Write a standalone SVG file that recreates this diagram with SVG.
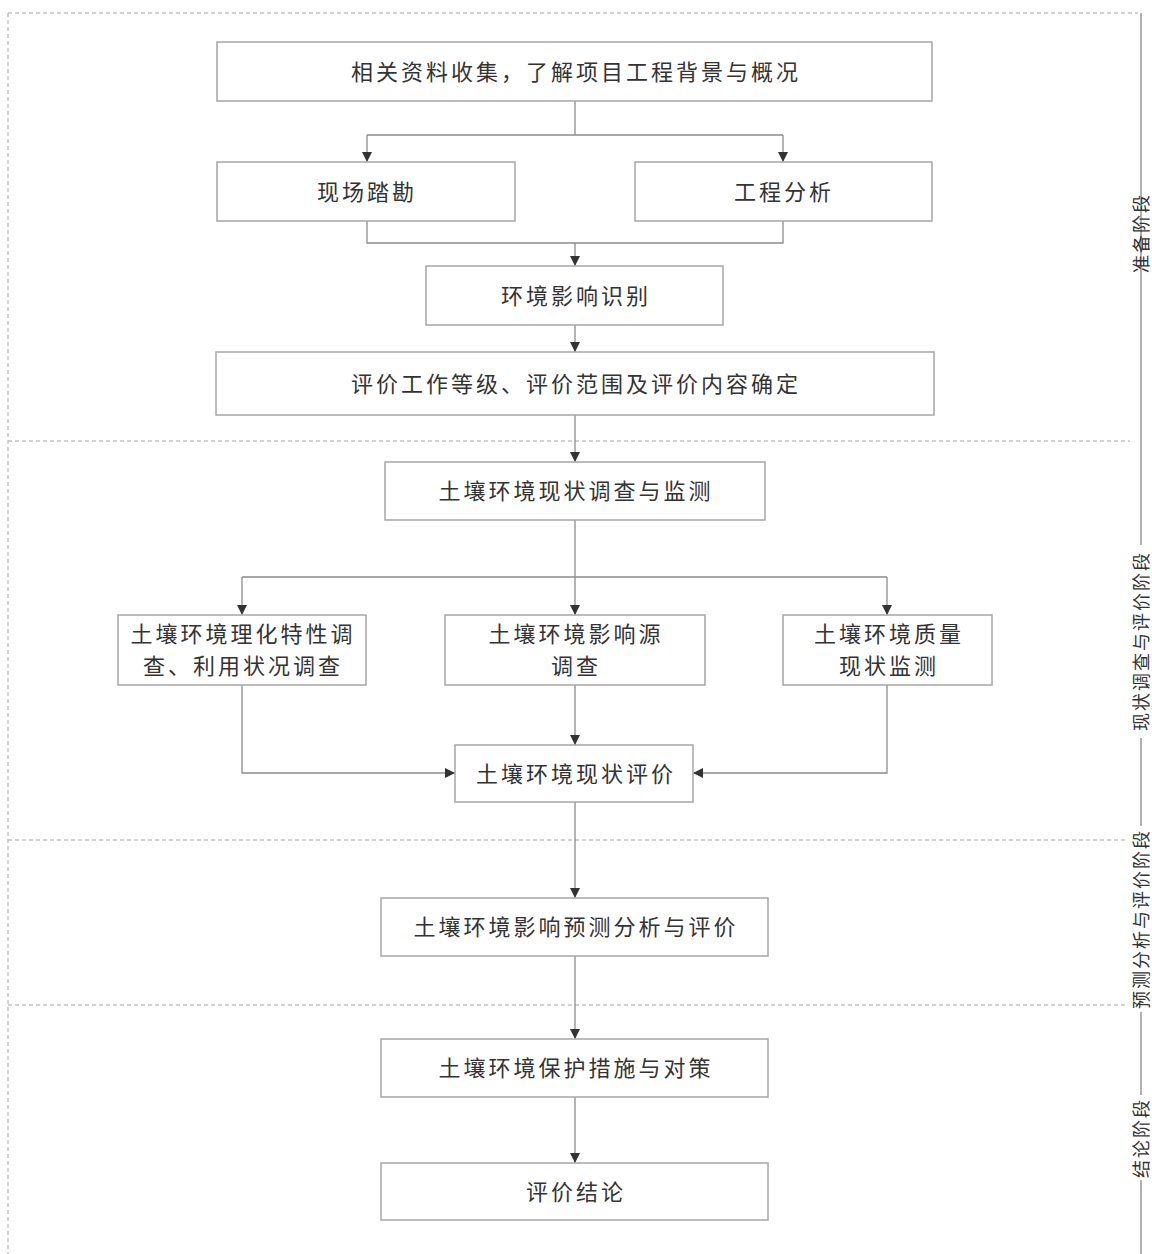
<svg xmlns="http://www.w3.org/2000/svg" width="1152" height="1254" viewBox="0 0 1152 1254">
<defs>
<style>
.box{fill:#fff;stroke:#a6a6a6;stroke-width:1.5}
.t{font-family:"Noto Sans CJK SC","Noto Sans CJK JP",sans-serif;font-size:22px;fill:#333;text-anchor:middle;dominant-baseline:central;letter-spacing:3px}
.lab{font-family:"Noto Sans CJK SC","Noto Sans CJK JP",sans-serif;font-size:18px;fill:#333;text-anchor:middle;dominant-baseline:central;letter-spacing:2px}
.c{fill:none;stroke:#8c8c8c;stroke-width:1.3}
.d{fill:none;stroke:#c4c4c4;stroke-width:1.5;stroke-dasharray:4 3}
.v{fill:none;stroke:#b0b0b0;stroke-width:2}
</style>
<marker id="ah" viewBox="0 0 10 10" refX="10" refY="5" markerWidth="10" markerHeight="10" markerUnits="userSpaceOnUse" orient="auto">
<path d="M0,0 L10,5 L0,10 z" fill="#333"/>
</marker>
</defs>

<g id="frame">
<path class="d" d="M8,13 H1138"/>
<path class="d" d="M8,13 V1254"/>
<path class="d" d="M8,441 H1130"/>
<path class="d" d="M8,840 H1125"/>
<path class="d" d="M8,1005 H1125"/>
<path class="v" d="M1141,13 V545 M1141,738 V826 M1141,1012 V1095 M1141,1180 V1254"/>
</g>

<g id="stage-labels">
<text class="lab" transform="translate(1140,233) rotate(-90)">准备阶段</text>
<text class="lab" transform="translate(1140,641) rotate(-90)">现状调查与评价阶段</text>
<text class="lab" transform="translate(1140,919) rotate(-90)">预测分析与评价阶段</text>
<text class="lab" transform="translate(1140,1138) rotate(-90)">结论阶段</text>
</g>

<g id="connectors">
<path class="c" d="M575,101 V135 M367,135 H783"/>
<path class="c" d="M367,135 V162" marker-end="url(#ah)"/>
<path class="c" d="M783,135 V162" marker-end="url(#ah)"/>
<path class="c" d="M367,221 V243 H783 V221"/>
<path class="c" d="M575,243 V266" marker-end="url(#ah)"/>
<path class="c" d="M575,325 V352" marker-end="url(#ah)"/>
<path class="c" d="M575,415 V462" marker-end="url(#ah)"/>
<path class="c" d="M575,520 V577 M242,577 H887"/>
<path class="c" d="M242,577 V615" marker-end="url(#ah)"/>
<path class="c" d="M575,577 V615" marker-end="url(#ah)"/>
<path class="c" d="M887,577 V615" marker-end="url(#ah)"/>
<path class="c" d="M242,685 V773 H455" marker-end="url(#ah)"/>
<path class="c" d="M575,685 V745" marker-end="url(#ah)"/>
<path class="c" d="M887,685 V773 H693" marker-end="url(#ah)"/>
<path class="c" d="M575,802 V898" marker-end="url(#ah)"/>
<path class="c" d="M575,956 V1039" marker-end="url(#ah)"/>
<path class="c" d="M575,1097 V1163" marker-end="url(#ah)"/>
</g>

<g id="n1"><rect class="box" x="217" y="42" width="715" height="59"/><text class="t" x="576" y="70">相关资料收集，了解项目工程背景与概况</text></g>
<g id="n2"><rect class="box" x="217" y="162" width="298" height="59"/><text class="t" x="367" y="190">现场踏勘</text></g>
<g id="n3"><rect class="box" x="635" y="162" width="297" height="59"/><text class="t" x="784" y="190">工程分析</text></g>
<g id="n4"><rect class="box" x="426" y="266" width="297" height="59"/><text class="t" x="576" y="294">环境影响识别</text></g>
<g id="n5"><rect class="box" x="216" y="352" width="718" height="63"/><text class="t" x="576" y="382">评价工作等级、评价范围及评价内容确定</text></g>
<g id="n6"><rect class="box" x="385" y="462" width="380" height="58"/><text class="t" x="576" y="489">土壤环境现状调查与监测</text></g>
<g id="n7"><rect class="box" x="118" y="615" width="248" height="70"/><text class="t" x="243" y="632">土壤环境理化特性调</text><text class="t" x="243" y="664">查、利用状况调查</text></g>
<g id="n8"><rect class="box" x="445" y="615" width="260" height="70"/><text class="t" x="576" y="632">土壤环境影响源</text><text class="t" x="576" y="664">调查</text></g>
<g id="n9"><rect class="box" x="783" y="615" width="209" height="70"/><text class="t" x="889" y="632">土壤环境质量</text><text class="t" x="889" y="664">现状监测</text></g>
<g id="n10"><rect class="box" x="455" y="745" width="238" height="57"/><text class="t" x="576" y="772">土壤环境现状评价</text></g>
<g id="n11"><rect class="box" x="381" y="898" width="387" height="58"/><text class="t" x="576" y="925">土壤环境影响预测分析与评价</text></g>
<g id="n12"><rect class="box" x="381" y="1039" width="387" height="58"/><text class="t" x="576" y="1066">土壤环境保护措施与对策</text></g>
<g id="n13"><rect class="box" x="381" y="1163" width="387" height="57"/><text class="t" x="576" y="1190">评价结论</text></g>
</svg>
